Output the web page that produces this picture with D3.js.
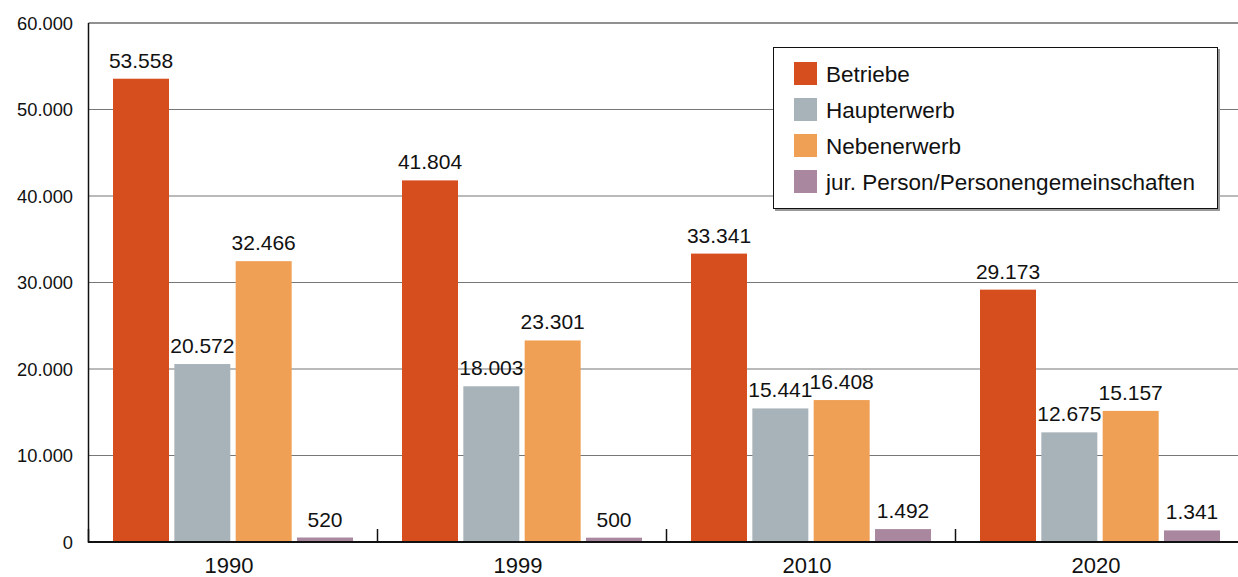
<!DOCTYPE html>
<html><head><meta charset="utf-8">
<script src="https://cdn.jsdelivr.net/npm/d3@7"></script>
<style>body{margin:0;background:#fff;} svg{display:block;font-family:"Liberation Sans",Arial,Helvetica,sans-serif;}</style>
</head><body>
<svg id="c" width="1238" height="577"></svg>
<script>
const years = ["1990","1999","2010","2020"];
const seriesNames = ["Betriebe","Haupterwerb","Nebenerwerb","jur. Person/Personengemeinschaften"];
const betriebe = [53558, 41804, 33341, 29173];
const haupterwerb = [20572, 18003, 15441, 12675];
const nebenerwerb = [32466, 23301, 16408, 15157];
const jurPerson = [520, 500, 1492, 1341];
const colors = ["#d64d1e","#a7b3b9","#f0a055","#a9889f"];
const yTicks = [0,10000,20000,30000,40000,50000,60000];
const yTickLabels = ["0","10.000","20.000","30.000","40.000","50.000","60.000"];

const values = [betriebe, haupterwerb, nebenerwerb, jurPerson];
const fmt = v => v.toLocaleString("de-DE");
const svg = d3.select("#c");
const x0 = 88.5, yTop = 23, yBase = 542;
const x = d3.scaleBand().domain(years).range([x0, x0 + 289*4]).paddingInner(0).paddingOuter(0);
const xs = d3.scaleBand().domain(seriesNames).range([24.5, 264.5]).paddingInner(0.087).paddingOuter(0);
const y = d3.scaleLinear().domain([0,60000]).range([yBase, yTop]);

// gridlines
svg.append("g").selectAll("line").data(yTicks.filter(t=>t>0)).join("line")
  .attr("x1", x0).attr("x2", 1238).attr("y1", d=>y(d)).attr("y2", d=>y(d))
  .attr("stroke", d=> d===60000 ? "#222" : "#777").attr("stroke-width", 1.2);

// y tick labels
svg.append("g").selectAll("text").data(yTicks).join("text")
  .attr("x", 73).attr("y", d=>y(d)).attr("dy","0.36em").attr("text-anchor","end")
  .attr("font-size", 18.3).attr("fill","#111").text((d,i)=>yTickLabels[i]);

// bars
const groups = svg.append("g").selectAll("g").data(years).join("g")
  .attr("transform", d=>`translate(${x(d)},0)`);
groups.selectAll("rect").data((d,i)=>seriesNames.map((s,j)=>({s, v: values[j][i], c: colors[j]}))).join("rect")
  .attr("x", d=>xs(d.s)).attr("width", xs.bandwidth())
  .attr("y", d=>y(d.v)).attr("height", d=>yBase - y(d.v)).attr("fill", d=>d.c);
groups.selectAll("text").data((d,i)=>seriesNames.map((s,j)=>({s, v: values[j][i]}))).join("text")
  .attr("x", d=>xs(d.s) + xs.bandwidth()/2).attr("y", d=>y(d.v) - 11)
  .attr("text-anchor","middle").attr("font-size", 21).attr("fill","#111").text(d=>fmt(d.v));

// axes lines
svg.append("line").attr("x1", x0).attr("x2", x0).attr("y1", yTop).attr("y2", yBase+1).attr("stroke","#111").attr("stroke-width",1.5);
svg.append("line").attr("x1", x0).attr("x2", 1238).attr("y1", yBase).attr("y2", yBase).attr("stroke","#111").attr("stroke-width",2);
// category boundary ticks
svg.append("g").selectAll("line").data(years).join("line")
  .attr("x1", d=>x(d)).attr("x2", d=>x(d)).attr("y1", yBase).attr("y2", yBase-13)
  .attr("stroke","#111").attr("stroke-width",1.5);
// x labels
svg.append("g").selectAll("text").data(years).join("text")
  .attr("x", d=>x(d)+x.bandwidth()/2 - 4).attr("y", 573)
  .attr("text-anchor","middle").attr("font-size", 22).attr("fill","#111").text(d=>d);

// legend
const lg = svg.append("g");
lg.append("rect").attr("x", 775).attr("y", 49).attr("width", 445).attr("height", 162).attr("fill","#999");
lg.append("rect").attr("x", 773.5).attr("y", 47.5).attr("width", 444).attr("height", 161).attr("fill","#fff").attr("stroke","#111").attr("stroke-width",1);
const li = lg.selectAll("g").data(seriesNames).join("g").attr("transform",(d,i)=>`translate(794,${62 + i*36})`);
li.append("rect").attr("width",23).attr("height",23).attr("fill",(d,i)=>colors[i]);
li.append("text").attr("x",32).attr("y",20).attr("font-size",22.5).attr("fill","#111").text(d=>d);
</script>
</body></html>
